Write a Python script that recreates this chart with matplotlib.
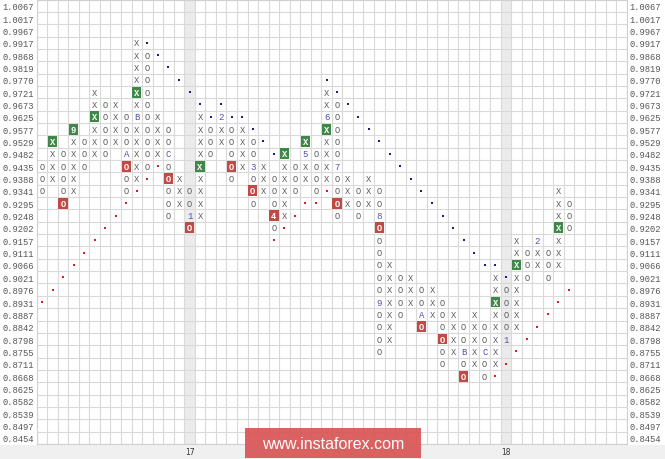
import matplotlib
matplotlib.use("Agg")
import matplotlib.pyplot as plt
from matplotlib.patches import Rectangle

# price levels, top to bottom
levels = ["1.0067", "1.0017", "0.9967", "0.9917", "0.9868", "0.9819", "0.9770", "0.9721",
          "0.9673", "0.9625", "0.9577", "0.9529", "0.9482", "0.9435", "0.9388", "0.9341",
          "0.9295", "0.9248", "0.9202", "0.9157", "0.9111", "0.9066", "0.9021", "0.8976",
          "0.8931", "0.8887", "0.8842", "0.8798", "0.8755", "0.8711", "0.8668", "0.8625",
          "0.8582", "0.8539", "0.8497", "0.8454"]

# point & figure columns (first one is O, then alternating)
col_high = [0.9435, 0.9529, 0.9482, 0.9577, 0.9529, 0.9721, 0.9673, 0.9673, 0.9625, 0.9917,
            0.9868, 0.9625, 0.9577, 0.9388, 0.9341, 0.9625, 0.9577, 0.9625, 0.9577, 0.9577,
            0.9529, 0.9435, 0.9388, 0.9482, 0.9435, 0.9529, 0.9482, 0.9721, 0.9673, 0.9388,
            0.9341, 0.9388, 0.9341, 0.9066, 0.9021, 0.9021, 0.8976, 0.8976, 0.8931, 0.8887,
            0.8842, 0.8887, 0.8842, 0.9021, 0.8976, 0.9157, 0.9111, 0.9157, 0.9111, 0.9341,
            0.9295]
col_low = [0.9341, 0.9388, 0.9295, 0.9341, 0.9435, 0.9482, 0.9482, 0.9529, 0.9341, 0.9388,
           0.9435, 0.9482, 0.9248, 0.9295, 0.9202, 0.9248, 0.9482, 0.9529, 0.9388, 0.9435,
           0.9295, 0.9341, 0.9202, 0.9248, 0.9341, 0.9388, 0.9341, 0.9388, 0.9248, 0.9295,
           0.9248, 0.9295, 0.8755, 0.8798, 0.8887, 0.8931, 0.8842, 0.8887, 0.8711, 0.8755,
           0.8668, 0.8711, 0.8668, 0.8711, 0.8798, 0.8842, 0.9021, 0.9066, 0.9021, 0.9066,
           0.9202]

# month markers (col, price, label)
months = [(8, 0.9482, "A"), (9, 0.9625, "B"), (12, 0.9482, "C"), (14, 0.9248, "1"),
          (17, 0.9625, "2"), (20, 0.9435, "3"), (25, 0.9482, "5"), (27, 0.9625, "6"),
          (28, 0.9435, "7"), (32, 0.9248, "8"), (32, 0.8931, "9"), (36, 0.8887, "A"),
          (40, 0.8755, "B"), (42, 0.8755, "C"), (44, 0.8798, "1"), (47, 0.9157, "2")]

# highlighted signal boxes (col, price, label)
green_boxes = [(1, 0.9529, "X"), (3, 0.9577, "9"), (5, 0.9625, "X"), (9, 0.9721, "X"),
               (15, 0.9435, "X"), (23, 0.9482, "X"), (25, 0.9529, "X"), (27, 0.9577, "X"),
               (43, 0.8931, "X"), (45, 0.9066, "X"), (49, 0.9202, "X")]
red_boxes = [(2, 0.9295, "O"), (8, 0.9435, "O"), (12, 0.9388, "O"), (14, 0.9202, "O"),
             (18, 0.9435, "O"), (20, 0.9341, "O"), (22, 0.9248, "4"), (28, 0.9295, "O"),
             (32, 0.9202, "O"), (36, 0.8842, "O"), (38, 0.8798, "O"), (40, 0.8668, "O")]

# trend lines
res_cols = [10, 11, 12, 13, 14, 15, 16, 17, 18, 19, 20, 21, 22,
            27, 28, 29, 30, 31, 32, 33, 34, 35, 36, 37, 38, 39, 40, 41, 42, 43, 44]
res_prices = [0.9917, 0.9868, 0.9819, 0.9770, 0.9721, 0.9673, 0.9625, 0.9673, 0.9625, 0.9625,
              0.9577, 0.9529, 0.9482,
              0.9770, 0.9721, 0.9673, 0.9625, 0.9577, 0.9529, 0.9482, 0.9435, 0.9388, 0.9341,
              0.9295, 0.9248, 0.9202, 0.9157, 0.9111, 0.9066, 0.9066, 0.9021]
sup_cols = [0, 1, 2, 3, 4, 5, 6, 7, 8, 9, 10, 11,
            22, 23, 24, 25, 26, 27,
            43, 44, 45, 46, 47, 48, 49, 50]
sup_prices = [0.8931, 0.8976, 0.9021, 0.9066, 0.9111, 0.9157, 0.9202, 0.9248, 0.9295, 0.9341,
              0.9388, 0.9435,
              0.9157, 0.9202, 0.9248, 0.9295, 0.9295, 0.9341,
              0.8668, 0.8711, 0.8755, 0.8798, 0.8842, 0.8887, 0.8931, 0.8976]

n_cols = 56
year_cols = [14, 44]
year_labels = ["17", "18"]

def row(p):
    return levels.index("%.4f" % p)

W, H = 665, 460
fig = plt.figure(figsize=(W / 100, H / 100), dpi=100)
fig.patch.set_facecolor("white")
ax = fig.add_axes([36.7 / W, 1 - 445 / H, (627 - 36.7) / W, 444.5 / H])
ax.set_xlim(0, n_cols)
ax.set_ylim(len(levels) - 0.5, -0.5)

# bottom strip (behind the axes so the year labels stay visible)
fig.patches.append(Rectangle((0, 0), 1, 14.5 / H, transform=fig.transFigure,
                             facecolor="#f0f0f0", edgecolor="none", zorder=-1))

for c in year_cols:
    ax.axvspan(c, c + 1, color="#ebebeb", zorder=0, lw=0)
for x in range(n_cols + 1):
    ax.axvline(x, color="#d9d9d9", lw=0.8, zorder=1)
for i in range(len(levels) + 1):
    ax.axhline(i - 0.5, color="#d9d9d9", lw=0.8, zorder=1)

special = {}
for c, p, lab in months:
    special[(c, row(p))] = ("m", lab)
for c, p, lab in green_boxes:
    special[(c, row(p))] = ("g", lab)
for c, p, lab in red_boxes:
    special[(c, row(p))] = ("r", lab)

mono = "Liberation Mono"
for c in range(len(col_high)):
    glyph = "O" if c % 2 == 0 else "X"
    for r in range(row(col_high[c]), row(col_low[c]) + 1):
        kind = special.get((c, r))
        x = c + 0.5
        if kind is None:
            ax.text(x, r, glyph, ha="center", va="center", fontsize=6.3,
                    family=mono, color="#5a5a5a", zorder=3)
        elif kind[0] == "m":
            ax.text(x, r, kind[1], ha="center", va="center", fontsize=6.5,
                    family=mono, color="#5050b0", zorder=3)
        else:
            fc = "#40884a" if kind[0] == "g" else "#c24a45"
            ax.add_patch(Rectangle((c + 0.06, r - 0.44), 0.88, 0.88, facecolor=fc,
                                   edgecolor="none", zorder=2))
            ax.text(x, r, kind[1], ha="center", va="center", fontsize=6.3,
                    family=mono, color="white", fontweight="bold", zorder=3)

ax.scatter([c + 0.5 for c in res_cols], [row(p) for p in res_prices], marker="s", s=3.5,
           color="#1c1c8c", lw=0, zorder=3)
ax.scatter([c + 0.5 for c in sup_cols], [row(p) for p in sup_prices], marker="s", s=3.5,
           color="#d42020", lw=0, zorder=3)

ax.set_yticks(range(len(levels)))
ax.set_yticklabels(levels)
ax.set_xticks([c + 0.5 for c in year_cols])
ax.set_xticklabels(year_labels)
ax.tick_params(axis="y", length=0, labelsize=6.3, labelcolor="#555555", pad=1.8,
               labelright=True)
ax.tick_params(axis="x", length=0, labelsize=5.5, labelcolor="#333333", pad=2.5)
for lab in ax.get_yticklabels():
    lab.set_family(mono)
for s in ax.spines.values():
    s.set_color("#d0d0d0")
    s.set_linewidth(0.8)

# watermark
fig.patches.append(Rectangle((245 / W, 1 / H), 176 / W, 30 / H, transform=fig.transFigure,
                             facecolor="#d95555", edgecolor="none", alpha=0.92, zorder=5))
fig.text(333 / W, 15.5 / H, "www.instaforex.com", ha="center", va="center",
         fontsize=11.5, family="Liberation Sans", color="white", zorder=6)

fig.savefig("out.png", dpi=100)
